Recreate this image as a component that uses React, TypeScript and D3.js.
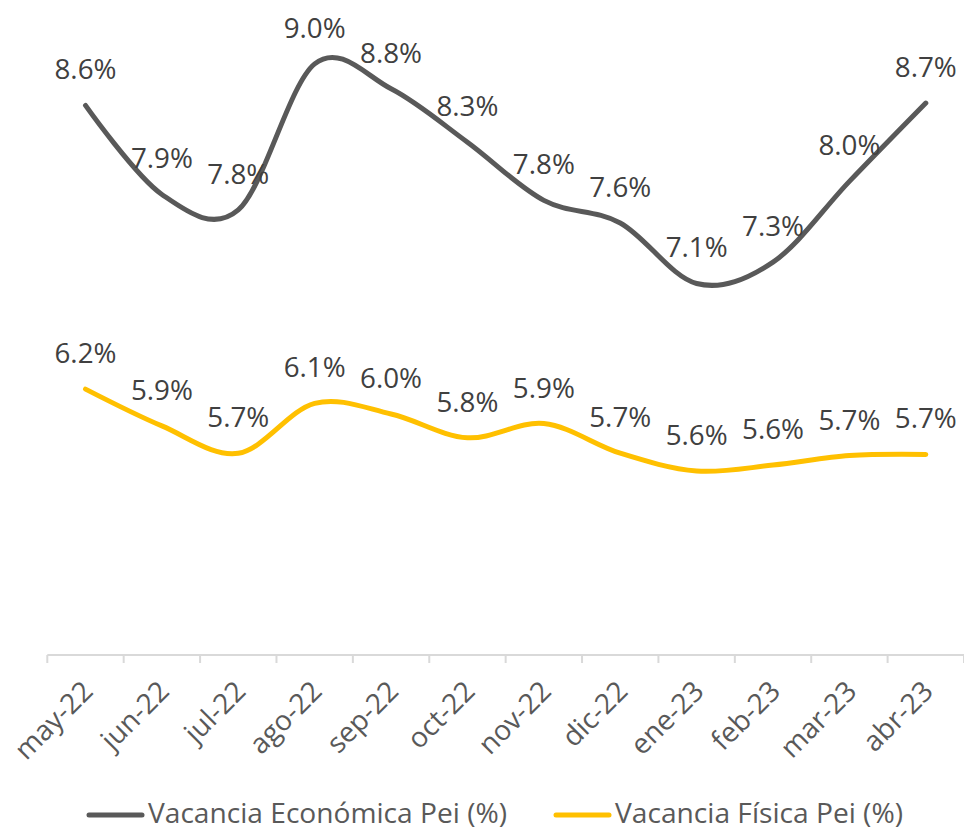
import React from "react";
import * as d3 from "d3";

const categories = ["may-22", "jun-22", "jul-22", "ago-22", "sep-22", "oct-22", "nov-22", "dic-22", "ene-23", "feb-23", "mar-23", "abr-23"];
const economica = [8.63, 7.88, 7.75, 8.98, 8.77, 8.32, 7.83, 7.64, 7.13, 7.31, 7.99, 8.65];
const fisica = [6.24, 5.93, 5.7, 6.12, 6.03, 5.83, 5.95, 5.7, 5.55, 5.6, 5.68, 5.69];
const economicaLabels = ["8.6%", "7.9%", "7.8%", "9.0%", "8.8%", "8.3%", "7.8%", "7.6%", "7.1%", "7.3%", "8.0%", "8.7%"];
const fisicaLabels = ["6.2%", "5.9%", "5.7%", "6.1%", "6.0%", "5.8%", "5.9%", "5.7%", "5.6%", "5.6%", "5.7%", "5.7%"];
const seriesNames = ["Vacancia Económica Pei (%)", "Vacancia Física Pei (%)"];
const yDomain = [4, 9.5];

const W = 964;
const H = 831;
const FONT = "'Open Sans', 'Noto Sans', sans-serif";

export default function App() {
  const left = 47.3;
  const right = 964;
  const axisY = 655;
  const x = d3.scaleBand<string>().domain(categories).range([left, right]);
  const y = d3.scaleLinear().domain(yDomain).range([axisY, axisY - 5.5 * 118.7]);
  const cx = (c: string) => (x(c) as number) + x.bandwidth() / 2;
  const line = d3
    .line<number>()
    .x((_, i) => cx(categories[i]))
    .y((d) => y(d))
    .curve(d3.curveCardinal.tension(0));

  const series = [
    { values: economica, labels: economicaLabels, color: "#595959" },
    { values: fisica, labels: fisicaLabels, color: "#FFC000" },
  ];

  const ticks = d3.range(categories.length + 1).map((i) => left + i * x.step());

  return (
    <svg width={W} height={H} style={{ position: "absolute", left: 0, top: 0, background: "#fff" }}>
      <rect x={0} y={0} width={W} height={H} fill="#fff" />
      {/* axis */}
      <line x1={left} x2={right} y1={axisY} y2={axisY} stroke="#d9d9d9" strokeWidth={2} />
      {ticks.map((t, i) => (
        <line key={i} x1={t} x2={t} y1={axisY} y2={axisY + 8} stroke="#d9d9d9" strokeWidth={2} />
      ))}
      {categories.map((c) => (
        <text
          key={c}
          transform={`translate(${cx(c) + 9},${axisY + 38}) rotate(-45)`}
          textAnchor="end"
          fontFamily={FONT}
          fontSize={28}
          fill="#595959"
        >
          {c}
        </text>
      ))}
      {series.map((s, si) => (
        <path
          key={si}
          d={line(s.values) as string}
          fill="none"
          stroke={s.color}
          strokeWidth={5}
          strokeLinecap="round"
          strokeLinejoin="round"
        />
      ))}
      {series.map((s, si) =>
        s.values.map((v, i) => (
          <text
            key={`${si}-${i}`}
            x={cx(categories[i])}
            y={y(v) - 26}
            textAnchor="middle"
            fontFamily={FONT}
            fontSize={28}
            textLength={62}
            lengthAdjust="spacingAndGlyphs"
            fill="#404040"
          >
            {s.labels[i]}
          </text>
        ))
      )}
      {/* legend */}
      <line x1={89} x2={142} y1={815} y2={815} stroke="#595959" strokeWidth={5} strokeLinecap="round" />
      <text x={148} y={823} fontFamily={FONT} fontSize={27} textLength={359} lengthAdjust="spacingAndGlyphs" fill="#595959">
        {seriesNames[0]}
      </text>
      <line x1={556} x2={609} y1={815} y2={815} stroke="#FFC000" strokeWidth={5} strokeLinecap="round" />
      <text x={615} y={823} fontFamily={FONT} fontSize={27} textLength={288} lengthAdjust="spacingAndGlyphs" fill="#595959">
        {seriesNames[1]}
      </text>
    </svg>
  );
}
